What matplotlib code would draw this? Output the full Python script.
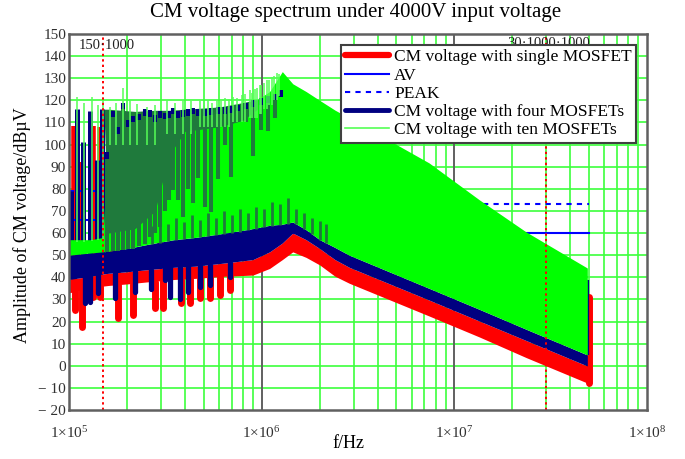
import matplotlib
matplotlib.use("Agg")
import matplotlib.pyplot as plt
from matplotlib.lines import Line2D
from matplotlib.ticker import NullLocator

plt.rcParams['font.family'] = ['Liberation Serif', 'DejaVu Serif']
plt.rcParams['mathtext.fontset'] = 'custom'
plt.rcParams['mathtext.rm'] = 'Liberation Serif'
plt.rcParams['mathtext.it'] = 'Liberation Serif:italic'
plt.rcParams['mathtext.bf'] = 'Liberation Serif:bold'

# ---------------- text ----------------
title = "CM voltage spectrum under 4000V input voltage"
x_label = "f/Hz"
y_label = "Amplitude of CM voltage/dBµV"
series_names = ["CM voltage with single MOSFET", "AV", "PEAK",
                "CM voltage with four MOSFETs", "CM voltage with ten MOSFETs"]
y_ticks = list(range(-20, 151, 10))
x_ticks = [1e5, 1e6, 1e7, 1e8]
x_tick_labels = [r"$1{\times}10^{5}$", r"$1{\times}10^{6}$",
                 r"$1{\times}10^{7}$", r"$1{\times}10^{8}$"]
marker_f = [150e3, 30e6]
marker_labels = ["150·1000", "30·1000·1000"]
marker_label_f = [1.566e5, 3.07e7]
marker_label_y = [145.0, 145.9]

# ---------------- dense-spectrum envelopes (dBµV) ----------------
band_f = [1.0e5, 1.3e5, 1.5e5, 1.6e5, 2.0e5, 2.6e5, 3.5e5, 4.5e5, 6.5e5, 9.0e5,
          1.1e6, 1.28e6, 1.45e6, 1.7e6, 2.0e6, 2.4e6, 2.85e6, 7.4e6, 1.35e7,
          2.36e7, 4.9e7]
red_lo = [33, 35, 36, 36.3, 37, 38, 39, 39.5, 40.5, 41,
          44, 48, 51.5, 49, 45.6, 40.5, 37.3, 22.5, 13, 3.7, -7.8]
red_hi = [39, 40.5, 41.5, 41.8, 42.5, 43.5, 44.5, 45, 46.5, 48,
          51.5, 55.5, 60, 57, 53, 48, 44.5, 29.7, 20.2, 11.4, -0.1]
navy_lo = [39, 40.5, 41.5, 41.8, 42.5, 43.5, 44.5, 45, 46.5, 48,
           51.5, 55.5, 60, 57, 53, 48, 44.5, 29.7, 20.2, 11.4, -0.1]
navy_hi = [50, 51, 51.5, 51.8, 53, 55, 57, 58, 60, 62,
           63.5, 64, 65, 61.5, 57, 53.5, 50, 35, 25.5, 16.5, 4.9]
green_lo = [50, 51, 51.5, 51.8, 53, 55, 57, 58, 60, 62,
            63.5, 64, 65, 61.5, 57, 53.5, 50, 35, 25.5, 16.5, 4.9]
green_hi = [57, 57, 58, 106, 109, 111, 112, 114, 116, 119,
            124, 133, 127.5, 124, 120, 115.6, 112, 91.7, 75, 60.5, 44.2]

# overlap zone of four/ten MOSFET harmonics (appears dark green)
blend_f = [1.52e5, 1.6e5, 2.2e5, 2.8e5, 3.3e5, 4.0e5, 6.0e5, 8.0e5, 9.5e5]
blend_lo = [114, 60, 62, 70, 95, 106, 108, 111, 116]
blend_hi = [116, 116, 115, 115.5, 115.5, 116, 117, 119, 120.5]

# ---------------- single MOSFET: discrete harmonics ----------------
red_up_f = [1.06e5, 1.15e5, 1.33e5, 1.45e5, 1.68e5, 1.79e5, 2.96e5]
red_up_lo = [39, 40, 40.5, 41, 42, 42, 44]
red_up_hi = [108.5, 92, 108.5, 108, 108, 103.5, 106.5]
red_dn_f = [1.074e5, 1.164e5, 1.332e5, 1.447e5, 1.8e5, 2.15e5, 2.79e5, 3.07e5,
            3.83e5, 4.23e5, 4.77e5, 5.37e5, 6.06e5, 6.83e5, 5.0e7]
red_dn_lo = [25, 17.7, 31.2, 31, 21.4, 22.9, 26, 26,
             28.2, 28.2, 30.5, 30.5, 32, 34.3, -7.8]
red_dn_hi = [34, 35, 35.5, 36, 36.5, 37, 38, 38.5,
             39, 39.2, 39.5, 40, 40.2, 40.5, 31]

# ---------------- four MOSFETs: discrete harmonics ----------------
nv_dn_f = [1.21e5, 1.285e5, 1.41e5, 1.73e5, 2.2e5, 2.68e5, 3.14e5, 3.33e5,
           3.76e5, 4.13e5, 4.77e5, 5.37e5, 6.83e5]
nv_dn_lo = [28.2, 29, 32.7, 30.5, 33.5, 34.5, 38.8, 31.2,
            30, 33.5, 35.7, 36.5, 40]
nv_dn_hi = [41, 41, 41.5, 42, 43, 43.5, 44, 44.5, 44.5, 45, 45, 45.5, 46.5]

nv_f = [1.02e5, 1.096e5, 1.186e5, 1.285e5, 1.392e5, 1.477e5, 1.568e5, 1.696e5,
        1.795e5, 1.911e5, 2.029e5, 2.154e5, 2.305e5, 2.476e5, 2.628e5, 2.790e5,
        2.961e5, 3.144e5, 3.297e5, 3.471e5, 3.671e5, 3.911e5, 4.136e5, 4.406e5,
        4.66e5, 5.07e5, 5.49e5, 5.94e5, 6.43e5, 6.97e5, 7.54e5, 8.33e5, 9.01e5,
        9.96e5, 1.078e6, 1.168e6, 1.26e6]
nv_lo = [50, 50, 50, 50.5, 51, 51, 51.5, 52, 52, 52.5, 53, 53, 54, 55, 58, 60,
         62.9, 70, 75, 79.5, 75, 67.4, 80, 73.4, 84.9, 71.9, 69.7, 84.5, 99.8,
         85.5, 110, 110.3, 95, 106.6, 106, 112, 121.7]
nv_hi = [79, 116, 101, 115.3, 93, 116, 96.5, 115.3, 108, 119, 111, 113, 114,
         116, 115.6, 113.4, 115, 114.4, 115, 116.7, 115, 115.6, 116, 116.7, 116,
         116, 116.5, 117, 117, 117.5, 118, 119, 120, 121, 122, 123, 124.7]
nv_end_f = [4.97e7]
nv_end_lo = [4.9]
nv_end_hi = [38.8]

# short overlap harmonics just above the four-MOSFET band
low_f = [2.692e5, 2.962e5, 3.258e5, 3.584e5, 3.943e5, 4.338e5, 4.773e5, 5.251e5,
         5.776e5, 6.355e5, 6.991e5, 7.691e5, 8.462e5, 9.309e5, 1.024e6, 1.127e6,
         1.240e6, 1.364e6, 1.501e6, 1.651e6, 1.816e6, 1.998e6, 2.146e6]
low_lo = [55.0, 55.7, 56.2, 56.8, 57.2, 57.6, 58.0, 58.5, 59.0, 59.6, 60.1, 60.7,
          61.3, 61.9, 62.6, 63.3, 63.6, 64.2, 64.0, 61.9, 59.5, 56.7, 55.4]
low_hi = [63, 66, 64, 67, 65, 68, 66, 69, 67, 70, 68, 71, 69, 72, 71, 74,
          73, 76, 71, 69, 67, 65.5, 64]

# ---------------- ten MOSFETs: harmonic tops ----------------
gr_f = [1.100e5, 1.196e5, 1.311e5, 1.413e5, 1.500e5, 1.630e5, 1.751e5, 1.904e5,
        2.069e5, 2.251e5, 2.536e5, 2.790e5, 3.216e5, 3.542e5, 3.896e5, 4.283e5,
        4.770e5, 5.0e5, 5.245e5, 5.5e5, 5.841e5, 6.13e5, 6.428e5, 6.74e5,
        7.067e5, 7.44e5, 7.866e5, 8.24e5, 8.655e5, 8.92e5, 9.197e5, 9.47e5,
        9.773e5, 9.97e5, 1.025e6, 1.063e6, 1.093e6, 1.126e6, 1.16e6, 1.195e6,
        1.237e6]
gr_top = [121.6, 119, 121.6, 118, 121, 117, 119, 125.4,
          120, 118.5, 117, 118, 120.2, 119, 120.2, 119.5,
          119.6, 118, 120, 119, 120.2, 119.5, 121, 120.5,
          121.6, 121, 122.5, 123, 124.7, 123.5, 125, 125.5,
          126.9, 127, 128, 129.2, 129, 130.5, 131, 132.2,
          132]
gr_base = [56, 56, 56.5, 57, 57.5, 100, 100, 100,
           100, 100, 100, 100, 105, 105, 105, 105,
           108, 108, 108, 108, 108, 108, 108, 108,
           110, 110, 110, 110, 112, 112, 112, 112,
           114, 114, 116, 116, 118, 118, 120, 120,
           122]

# ---------------- CISPR limit lines ----------------
lim_f = [1.0e5, 5.0e5, 5.0e5, 5.0e7]
av_lim = [66, 66, 60, 60]
pk_lim = [79, 79, 73, 73]

# ---------------- style ----------------
RED = '#ff0000'
NAVY = '#000080'
GREEN = '#00ff00'
BLEND = '#1f7a3c'
LIGHTG = '#55ff55'
BLUE = '#0000ff'
GRID = '#3cff3c'

fig = plt.figure(figsize=(6.85, 4.59), dpi=100)
ax = fig.add_axes([69 / 685, 1 - 410 / 459, 578 / 685, 376 / 459])
ax.set_xscale('log')
ax.set_xlim(1e5, 1e8)
ax.set_ylim(-20, 150)

# grid
for k in (5, 6, 7):
    for m in range(2, 10):
        ax.axvline(m * 10 ** k, color=GRID, lw=1.2, zorder=0.5)
for xv in x_ticks[1:-1]:
    ax.axvline(xv, color='#606060', lw=1.4, zorder=0.6)
for yv in y_ticks[1:-1]:
    ax.axhline(yv, color=GRID, lw=1.2, zorder=0.5)

# single MOSFET
ax.fill_between(band_f, red_lo, red_hi, color=RED, lw=0, zorder=2)
ax.vlines(red_up_f, red_up_lo, red_up_hi, colors=RED, lw=4.0, zorder=2.1)
lc = ax.vlines(red_dn_f, red_dn_lo, red_dn_hi, colors=RED, lw=5.0, zorder=2.1)
lc.set_capstyle('round')

# limits
ax.plot(lim_f, av_lim, color=BLUE, lw=1.5, zorder=2.5)
ax.plot(lim_f, pk_lim, color=BLUE, lw=1.5, ls=(0, (2.5, 2.5)), zorder=2.5)

# four MOSFETs
ax.fill_between(band_f, navy_lo, navy_hi, color=NAVY, lw=0, zorder=3)
lc = ax.vlines(nv_dn_f, nv_dn_lo, nv_dn_hi, colors=NAVY, lw=3.8, zorder=3.1)
lc.set_capstyle('round')
ax.vlines(nv_end_f, nv_end_lo, nv_end_hi, colors=NAVY, lw=1.6, zorder=3.1)
low_sel = [i for i, f in enumerate(nv_f) if f < 1.56e5]
ax.vlines([nv_f[i] for i in low_sel], [nv_lo[i] for i in low_sel],
          [nv_hi[i] for i in low_sel], colors=NAVY, lw=3.6, zorder=3.2)

# ten MOSFETs
ax.fill_between(band_f, green_lo, green_hi, color=GREEN, lw=0, zorder=4)
ax.fill_between(blend_f, blend_lo, blend_hi, color=BLEND, lw=0, zorder=4.1)
hi_sel = [i for i, f in enumerate(nv_f) if f >= 1.56e5]
ax.vlines([nv_f[i] for i in hi_sel], [nv_lo[i] for i in hi_sel],
          [nv_hi[i] for i in hi_sel], colors=BLEND, lw=2.9, zorder=4.3)
ax.vlines([nv_f[i] for i in hi_sel], [nv_hi[i] - 3 for i in hi_sel],
          [nv_hi[i] for i in hi_sel], colors=NAVY, lw=2.9, zorder=4.35)
ax.vlines(low_f, low_lo, low_hi, colors=BLEND, lw=2.0, zorder=4.3)
ax.vlines(gr_f, gr_base, gr_top, colors=LIGHTG, lw=1.1, zorder=4.5)

# markers
for f in marker_f:
    ax.axvline(f, color=RED, lw=1.4, ls=(0, (1.2, 1.6)), zorder=4.8)
for f, y, s in zip(marker_label_f, marker_label_y, marker_labels):
    ax.text(f, y, s, ha='center', va='center', fontsize=10.5, color='#202020',
            zorder=4.9)

# axes cosmetics
for sp in ax.spines.values():
    sp.set_color('#606060')
    sp.set_linewidth(1.8)
    sp.set_zorder(6)
ax.set_xticks(x_ticks)
ax.set_xticklabels(x_tick_labels)
ax.xaxis.set_minor_locator(NullLocator())
ax.set_yticks(y_ticks)
ax.set_yticklabels([("\u2212 %d" % -v) if v < 0 else "%d" % v for v in y_ticks])
ax.tick_params(axis='both', length=0, labelsize=11, colors='#303030')
ax.tick_params(axis='x', pad=11)
ax.tick_params(axis='y', pad=2)

fig.text(356 / 685, 1 - 13 / 459, title, ha='center', va='center', fontsize=15)
fig.text(22 / 685, 1 - 225 / 459, y_label, ha='center', va='center',
         rotation=90, fontsize=13)
fig.text(348 / 685, 1 - 443 / 459, x_label, ha='center', va='center', fontsize=13)

handles = [Line2D([], [], color=RED, lw=4.5, solid_capstyle='round'),
           Line2D([], [], color=BLUE, lw=1.5),
           Line2D([], [], color=BLUE, lw=1.5, ls=(0, (2.5, 2.5))),
           Line2D([], [], color=NAVY, lw=3.5, solid_capstyle='round'),
           Line2D([], [], color=LIGHTG, lw=1.2)]
leg = ax.legend(handles, series_names, loc='upper right',
                bbox_to_anchor=(636 / 685, 1 - 45 / 459),
                bbox_transform=fig.transFigure, fontsize=12.5, frameon=True,
                fancybox=False, edgecolor='#404040', framealpha=1,
                borderaxespad=0, borderpad=0.25, labelspacing=0.12,
                handlelength=2.5, handletextpad=0.3)
leg.get_frame().set_linewidth(1.5)
leg.set_zorder(7)

fig.savefig('out.png', dpi=100)
